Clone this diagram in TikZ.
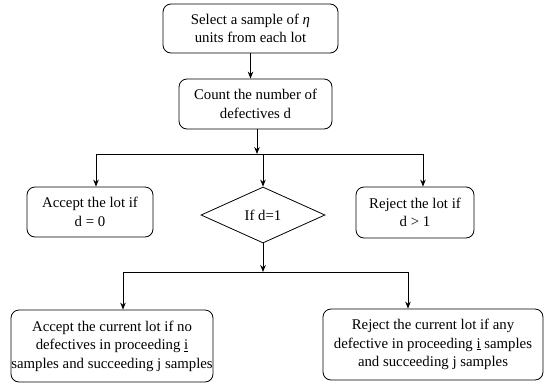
\documentclass[tikz,border=0pt]{standalone}
\usepackage{fontspec}
\setmainfont{Liberation Serif}
\usetikzlibrary{shapes.geometric,arrows.meta}
\begin{document}
\begin{tikzpicture}[x=1pt,y=-1pt,
  box/.style={draw, rounded corners=8pt, line width=0.8pt, align=center, inner sep=0pt,
    font=\fontsize{14.8}{18.5}\selectfont},
  dia/.style={draw, diamond, aspect=2.2, line width=0.8pt, inner sep=0pt,
    font=\fontsize{14.8}{18.5}\selectfont},
  arr/.style={-{Stealth[length=7pt,width=5.5pt]}, line width=0.9pt},
  ln/.style={line width=0.8pt}]
\useasboundingbox (0,0) rectangle (546,383);
\fill[white] (0,0) rectangle (546,383);

\node[box, minimum width=175pt, minimum height=49pt] (s1) at (250.5,28.5)
  {Select a sample of \textit{η}\\units from each lot};
\node[box, minimum width=153pt, minimum height=50pt] (s2) at (255.5,104)
  {Count the number of\\defectives d};
\node[box, minimum width=126pt, minimum height=50pt] (acc) at (90,212)
  {Accept the lot if\\d = 0};
\node[dia, minimum width=124pt, minimum height=56pt] (dec) at (263,215) {If d=1};
\node[box, minimum width=118pt, minimum height=51pt] (rej) at (415,212.5)
  {Reject the lot if\\d > 1};
\node[box, minimum width=202pt, minimum height=72pt] (acc2) at (112,346)
  {Accept the current lot if no\\defectives in proceeding \underline{i}\\samples and succeeding j samples};
\node[box, minimum width=220pt, minimum height=71pt] (rej2) at (433,344.5)
  {Reject the current lot if any\\defective in proceeding \underline{i} samples\\and succeeding j samples};

\coordinate (tl) at (96,154);
\coordinate (tr) at (423,154);
\coordinate (tm) at (257,154);
\coordinate (bl) at (123,272);
\coordinate (br) at (408,272);

\draw[arr] (s1.south) -- (s1.south |- s2.north);
\draw[arr] (tm |- s2.south) -- (tm);
\draw[ln] (tl) -- (tr);
\draw[arr] (tl) -- (tl |- acc.north);
\draw[arr] (dec.north |- tl) -- (dec.north);
\draw[arr] (tr) -- (tr |- rej.north);
\draw[arr] (dec.south) -- (dec.south |- bl);
\draw[ln] (bl) -- (br);
\draw[arr] (bl) -- (bl |- acc2.north);
\draw[arr] (br) -- (br |- rej2.north);
\end{tikzpicture}
\end{document}
